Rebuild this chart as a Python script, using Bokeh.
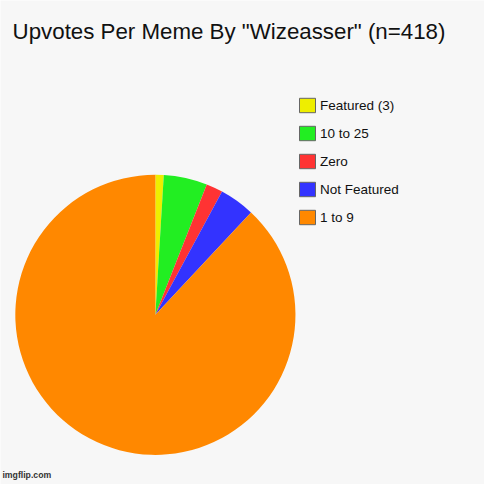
import numpy as np
from bokeh.plotting import figure
from bokeh.models import Range1d, Legend, LegendItem, Label, ColumnDataSource
from bokeh.embed import file_html
from bokeh.resources import INLINE

# ---- data ----
categories = ["Featured (3)", "10 to 25", "Zero", "Not Featured", "1 to 9"]
counts = [4, 21, 8, 17, 368]
colors = ["#eeee00", "#22ee22", "#ff3333", "#3333ff", "#ff8800"]
title_text = 'Upvotes Per Meme By "Wizeasser" (n=418)'
watermark = "imgflip.com"

# ---- layout (data units = reference pixels, 500 x 500, y up) ----
W = H = 484
REF = 500
S = W / REF
BG = "#f7f7f7"
cx, cy, radius = 160.0, 175.3, 144.7

total = float(sum(counts))
frac = np.array(counts) / total
cum = np.concatenate([[0.0], np.cumsum(frac)])
start = np.pi / 2 - cum[:-1] * 2 * np.pi
end = np.pi / 2 - cum[1:] * 2 * np.pi

src = ColumnDataSource(dict(cat=categories, val=counts, color=colors,
                            start=start.tolist(), end=end.tolist()))

p = figure(width=W, height=H, x_range=Range1d(0, REF), y_range=Range1d(0, REF),
           output_backend="svg", toolbar_location=None, min_border=0,
           x_axis_type=None, y_axis_type=None)
p.grid.visible = False
p.outline_line_color = None
p.background_fill_color = BG
p.border_fill_color = BG

p.wedge(x=cx, y=cy, radius=radius, start_angle="start", end_angle="end",
        direction="clock", fill_color="color", line_color=None, source=src)

# legend proxy (not drawn) so legend boxes get a grey border
proxy = p.wedge(x=cx, y=cy, radius=radius, start_angle="start", end_angle="end",
                direction="clock", fill_color="color", line_color="#666666",
                line_width=1, source=src, visible=False)

items = [LegendItem(label=c, renderers=[proxy], index=i) for i, c in enumerate(categories)]
legend = Legend(items=items, location=(297, 258), orientation="vertical",
                padding=0, margin=0, border_line_color=None, background_fill_alpha=0,
                glyph_width=20, glyph_height=18, label_height=18, spacing=10,
                label_standoff=3, label_text_font="Liberation Sans",
                label_text_font_size="13.5px", label_text_color="#111111",
                inactive_fill_alpha=0)
p.add_layout(legend)

p.add_layout(Label(x=12.5, y=468, text=title_text, text_baseline="middle",
                   text_font="Liberation Sans", text_font_size=f"{23 * S:.1f}px",
                   text_color="#111111"))
p.add_layout(Label(x=2, y=15, text=watermark, text_baseline="top",
                   text_font="Liberation Sans", text_font_size=f"{9 * S:.1f}px",
                   text_font_style="bold", text_color="#333333"))

open("out.html", "w").write(file_html(p, INLINE))
